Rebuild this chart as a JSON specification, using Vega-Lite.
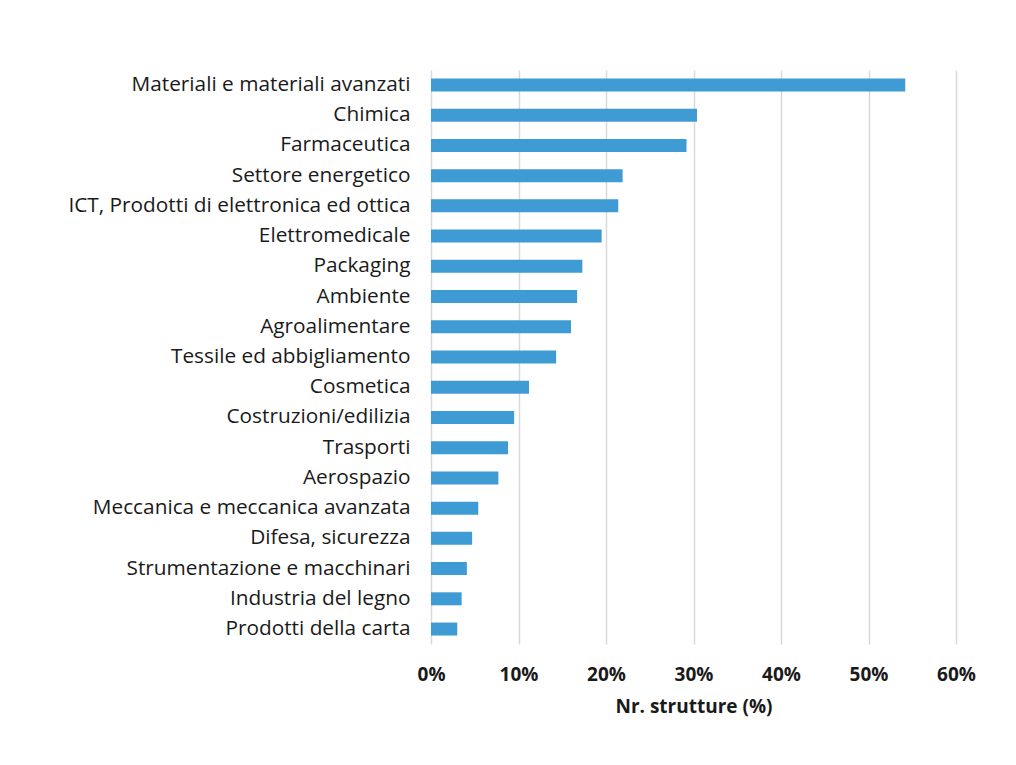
{
  "$schema": "https://vega.github.io/schema/vega-lite/v6.json",
  "autosize": "none",
  "width": 525,
  "height": 574,
  "padding": {"left": 431, "top": 70, "right": 60, "bottom": 121},
  "background": "white",
  "data": {"values": [
    {"settore": "Materiali e materiali avanzati", "valore": 54.2},
    {"settore": "Chimica", "valore": 30.4},
    {"settore": "Farmaceutica", "valore": 29.2},
    {"settore": "Settore energetico", "valore": 21.9},
    {"settore": "ICT, Prodotti di elettronica ed ottica", "valore": 21.4},
    {"settore": "Elettromedicale", "valore": 19.5},
    {"settore": "Packaging", "valore": 17.3},
    {"settore": "Ambiente", "valore": 16.7},
    {"settore": "Agroalimentare ", "valore": 16.0},
    {"settore": "Tessile ed abbigliamento", "valore": 14.3},
    {"settore": "Cosmetica", "valore": 11.2},
    {"settore": "Costruzioni/edilizia", "valore": 9.5},
    {"settore": "Trasporti", "valore": 8.8},
    {"settore": "Aerospazio", "valore": 7.7},
    {"settore": "Meccanica e meccanica avanzata", "valore": 5.4},
    {"settore": "Difesa, sicurezza", "valore": 4.7},
    {"settore": "Strumentazione e macchinari", "valore": 4.1},
    {"settore": "Industria del legno", "valore": 3.5},
    {"settore": "Prodotti della carta", "valore": 3.0}
  ]},
  "mark": {"type": "bar", "color": "#3E9BD4"},
  "encoding": {
    "y": {
      "field": "settore", "type": "nominal", "sort": null,
      "scale": {"paddingInner": 0.57, "paddingOuter": 0.28},
      "axis": {"title": null, "domain": false, "ticks": false, "grid": false,
        "labelFont": "Open Sans", "labelFontSize": 20.8, "labelColor": "#1a1a1a",
        "labelPadding": 21, "labelLimit": 400}
    },
    "x": {
      "field": "valore", "type": "quantitative",
      "scale": {"domain": [0, 60], "nice": false},
      "axis": {"title": "Nr. strutture (%)", "values": [0, 10, 20, 30, 40, 50, 60],
        "labelExpr": "datum.value + '%'", "domain": false, "ticks": false, "labelFlush": false,
        "grid": true, "gridColor": "#d9d9d9", "gridWidth": 1.5,
        "labelFont": "Open Sans", "labelFontSize": 19, "labelFontWeight": "bold", "labelColor": "#1a1a1a",
        "labelPadding": 21,
        "titleFont": "Open Sans", "titleFontSize": 19, "titleFontWeight": "bold", "titleColor": "#1a1a1a",
        "titlePadding": 13}
    }
  },
  "config": {"view": {"stroke": null}}
}
